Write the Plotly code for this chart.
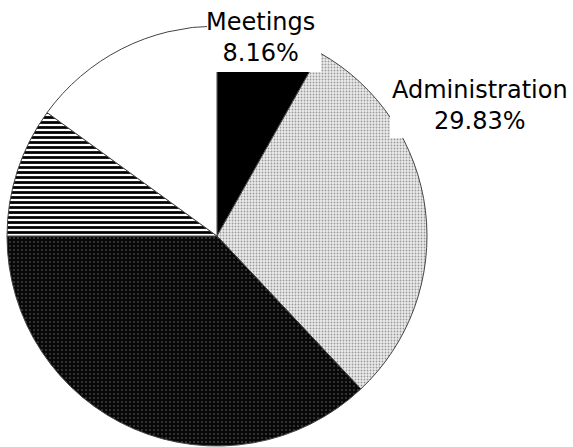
import plotly.graph_objects as go

categories = ["Meetings", "Administration", "Category C", "Category D", "Category E"]
shares = [8.16, 29.83, 37.01, 10.0, 15.0]
shown_labels = ["Meetings", "Administration"]

slice_colors = ["#000000", "#ececec", "#080808", "#ffffff", "#ffffff"]
pattern_shapes = ["", ".", ".", "-", ""]
pattern_fg = ["#000000", "#9a9a9a", "#404040", "#000000", "#ffffff"]
pattern_size = [4, 3, 4, 5, 4]
pattern_solidity = [0.3, 0.3, 0.2, 0.55, 0.3]

W, H = 573, 447
cx, cy, r = 217, 236, 210  # pixel geometry of the pie

fig = go.Figure()
fig.add_trace(go.Pie(
    labels=categories,
    values=shares,
    sort=False,
    direction="clockwise",
    rotation=0,
    textinfo="none",
    hoverinfo="skip",
    showlegend=False,
    domain=dict(x=[(cx - r) / W, (cx + r) / W], y=[(H - cy - r) / H, (H - cy + r) / H]),
    marker=dict(
        colors=slice_colors,
        line=dict(color="#444444", width=1),
        pattern=dict(shape=pattern_shapes, fgcolor=pattern_fg, bgcolor=slice_colors,
                     size=pattern_size, solidity=pattern_solidity, fillmode="replace"),
    ),
))

# white label boxes overlapping the pie
fig.add_shape(type="rect", xref="paper", yref="paper", layer="above",
              x0=207 / W, x1=321 / W, y0=1 - 72 / H, y1=1.0,
              fillcolor="white", line=dict(width=0))
fig.add_shape(type="rect", xref="paper", yref="paper", layer="above",
              x0=390 / W, x1=1.0, y0=1 - 138 / H, y1=1 - 64 / H,
              fillcolor="white", line=dict(width=0))

font = dict(family="DejaVu Sans", size=24, color="black")
label_pos = {"Meetings": (260, 38), "Administration": (480, 105)}
for name in shown_labels:
    v = shares[categories.index(name)]
    x, y = label_pos[name]
    fig.add_annotation(xref="paper", yref="paper", x=x / W, y=1 - y / H,
                       text=f"{name}<br>{v:.2f}%", showarrow=False,
                       font=font, xanchor="center", yanchor="middle", align="center")

fig.update_layout(width=W, height=H, margin=dict(l=0, r=0, t=0, b=0),
                  paper_bgcolor="white", plot_bgcolor="white")
fig.write_html("out.html")
